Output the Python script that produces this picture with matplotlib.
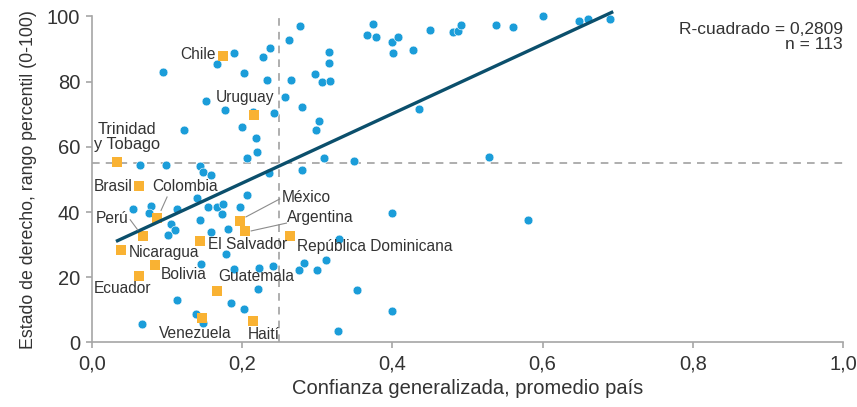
import matplotlib
matplotlib.use("Agg")
import matplotlib.pyplot as plt

# -----------------------------
# data
# -----------------------------
dots_x = [0.189, 0.166, 0.095, 0.203, 0.152, 0.177, 0.122, 0.200, 0.206, 0.064,
          0.099, 0.144, 0.148, 0.159, 0.277, 0.263, 0.237, 0.228, 0.233, 0.265,
          0.297, 0.306, 0.317, 0.315, 0.315, 0.257, 0.280, 0.214, 0.243, 0.302,
          0.298, 0.218, 0.220, 0.309, 0.349, 0.280, 0.236, 0.374, 0.366, 0.378,
          0.399, 0.408, 0.401, 0.427, 0.450, 0.481, 0.487, 0.491, 0.538, 0.561,
          0.600, 0.436, 0.528, 0.648, 0.660, 0.690,
          0.054, 0.078, 0.076, 0.113, 0.140, 0.154, 0.166, 0.174, 0.173, 0.197,
          0.206, 0.144, 0.105, 0.110, 0.101, 0.158, 0.181, 0.178, 0.145, 0.189,
          0.113, 0.185, 0.203, 0.138, 0.148, 0.066, 0.400, 0.329, 0.311, 0.282,
          0.276, 0.300, 0.222, 0.241, 0.221, 0.353, 0.400, 0.327, 0.580]
dots_y = [88.7, 85.3, 83.0, 82.6, 74.1, 71.3, 65.1, 66.2, 56.5, 54.5,
          54.5, 54.2, 52.4, 51.4, 97.0, 92.8, 90.4, 87.4, 80.5, 80.5,
          82.2, 79.9, 80.2, 89.0, 85.6, 75.4, 72.3, 70.6, 70.2, 67.9,
          65.2, 62.8, 58.5, 56.6, 55.5, 52.8, 51.9, 97.7, 94.2, 93.5,
          92.2, 93.6, 88.7, 89.7, 95.9, 95.2, 95.4, 97.4, 97.4, 96.7,
          100.0, 71.6, 56.9, 98.7, 99.3, 99.3,
          41.0, 41.8, 39.8, 40.9, 44.2, 41.6, 41.6, 42.6, 39.5, 41.6,
          45.2, 37.4, 36.3, 34.6, 32.9, 33.9, 34.9, 27.1, 24.0, 22.6,
          13.1, 12.0, 10.4, 8.6, 5.9, 5.6, 39.8, 31.8, 25.4, 24.3,
          22.2, 22.2, 22.9, 23.3, 16.5, 16.1, 9.6, 3.4, 37.6]

countries = ["Chile", "Uruguay", "Trinidad\ny Tobago", "Brasil", "Colombia", "Perú",
             "México", "Argentina", "El Salvador", "República Dominicana",
             "Nicaragua", "Bolivia", "Ecuador", "Guatemala", "Venezuela", "Haití"]
country_x = [0.175, 0.216, 0.033, 0.062, 0.086, 0.068, 0.197, 0.204, 0.144, 0.264,
             0.039, 0.084, 0.062, 0.166, 0.146, 0.214]
country_y = [87.7, 69.8, 55.2, 48.0, 38.3, 32.6, 37.1, 34.1, 31.2, 32.6,
             28.3, 23.7, 20.5, 15.8, 7.5, 6.5]

# label anchor per country (x, y, ha)
label_pos = {
    "Chile": (0.165, 88.2, "right"),
    "Uruguay": (0.204, 75.0, "center"),
    "Trinidad\ny Tobago": (0.047, 63.0, "center"),
    "Brasil": (0.002, 47.7, "left"),
    "Colombia": (0.080, 47.7, "left"),
    "Perú": (0.005, 37.9, "left"),
    "México": (0.253, 44.3, "left"),
    "Argentina": (0.260, 38.2, "left"),
    "El Salvador": (0.154, 29.9, "left"),
    "República Dominicana": (0.273, 29.3, "left"),
    "Nicaragua": (0.049, 27.5, "left"),
    "Bolivia": (0.092, 20.7, "left"),
    "Ecuador": (0.002, 16.4, "left"),
    "Guatemala": (0.168, 20.1, "left"),
    "Venezuela": (0.089, 2.9, "left"),
    "Haití": (0.208, 2.6, "left"),
}
# leader lines: (from, to)
leaders = {
    "Colombia": ((0.100, 44.6), (0.092, 40.5)),
    "Perú": ((0.051, 37.6), (0.061, 34.5)),
    "México": ((0.250, 44.0), (0.205, 38.5)),
    "Argentina": ((0.259, 36.6), (0.212, 34.2)),
}

trend_x = [0.034, 0.692]
trend_y = [31.2, 101.2]
mean_x = 0.249
mean_y = 54.9
r2_text = "R-cuadrado = 0,2809\nn = 113"

xticks = [0.0, 0.2, 0.4, 0.6, 0.8, 1.0]
yticks = [0, 20, 40, 60, 80, 100]

# -----------------------------
# style
# -----------------------------
plt.rcParams["font.family"] = ["Liberation Sans", "DejaVu Sans"]

txt_col = "#333333"
axis_col = "#a6a6a6"
blue = "#1b9dd9"
orange = "#f9b233"
line_col = "#0b4f6c"

fig = plt.figure(figsize=(8.57, 4.07), dpi=100)
ax = fig.add_axes([0.1073, 0.1585, 0.8764, 0.8015])

ax.axvline(mean_x, color="#999999", lw=1.1, ls=(0, (5, 4)), zorder=1)
ax.axhline(mean_y, color="#999999", lw=1.1, ls=(0, (5, 4)), zorder=1)

ax.scatter(dots_x, dots_y, s=40, color=blue, edgecolors="white", linewidths=0.4,
           zorder=3, clip_on=False)
ax.scatter(country_x, country_y, s=52, marker="s", color=orange, linewidths=0,
           zorder=4, clip_on=False)
ax.plot(trend_x, trend_y, color=line_col, lw=2.4, zorder=5, clip_on=False)

for name in countries:
    lx, ly, ha = label_pos[name]
    fs = 11.8 if name.startswith("Trinidad") else 11.2
    ax.text(lx, ly, name, ha=ha, va="center", fontsize=fs, color=txt_col,
            linespacing=1.05, zorder=6)
for name, (p0, p1) in leaders.items():
    ax.plot([p0[0], p1[0]], [p0[1], p1[1]], color="#8c8c8c", lw=0.8, zorder=6)

ax.text(1.0, 93.7, r2_text, ha="right", va="center", fontsize=12.5,
        color=txt_col, linespacing=1.0)

ax.set_xlim(0, 1.0)
ax.set_ylim(0, 100)
ax.set_xticks(xticks)
ax.set_xticklabels([f"{t:.1f}".replace(".", ",") for t in xticks])
ax.set_yticks(yticks)
ax.set_yticklabels([str(t) for t in yticks])

for side in ["top", "right"]:
    ax.spines[side].set_visible(False)
for side in ["left", "bottom"]:
    ax.spines[side].set_color(axis_col)
    ax.spines[side].set_linewidth(1.2)
ax.tick_params(axis="both", colors=axis_col, length=4.5, width=1.2,
               labelcolor=txt_col, labelsize=14.5, pad=4)

ax.set_xlabel("Confianza generalizada, promedio país", fontsize=14.5,
              color=txt_col, labelpad=4)
ax.set_ylabel("Estado de derecho, rango percentil (0-100)", fontsize=12.8,
              color=txt_col, labelpad=7)

fig.savefig("out.png", dpi=100, facecolor="white")
